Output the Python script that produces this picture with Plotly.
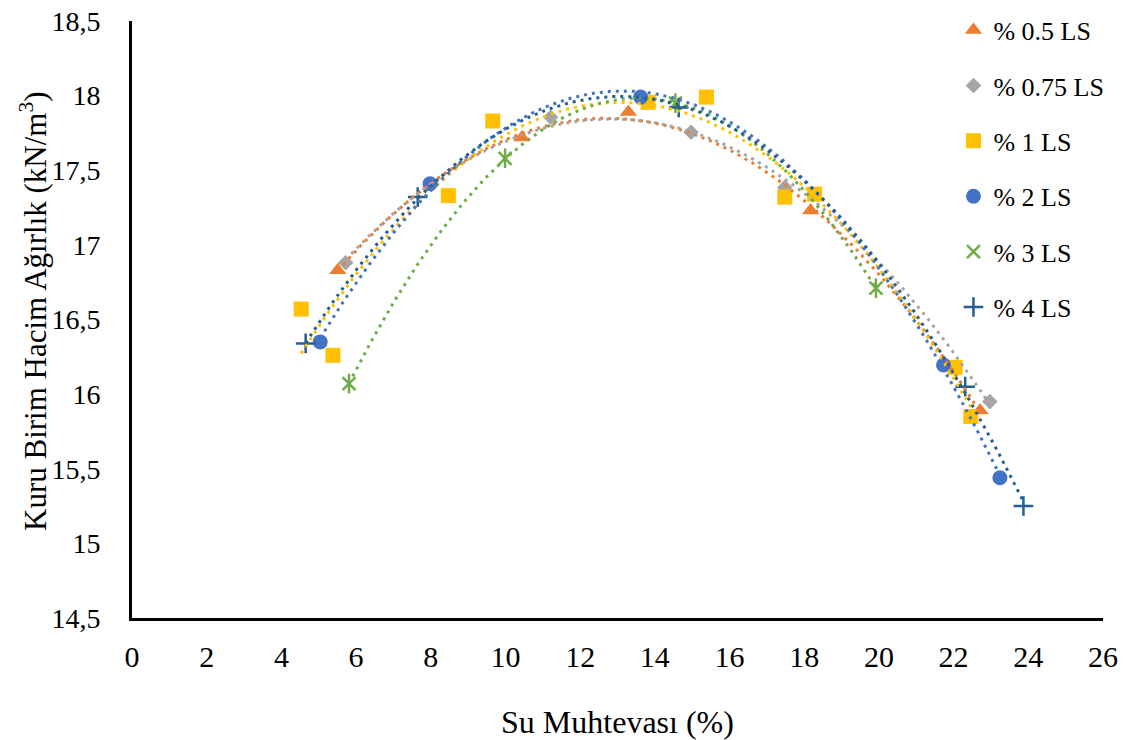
import numpy as np
import plotly.graph_objects as go

# ---- data ----
series_names = ["% 0.5 LS", "% 0.75 LS", "% 1 LS", "% 2 LS", "% 3 LS", "% 4 LS"]

x_05 = [5.51, 10.44, 13.29, 18.17, 22.71]
y_05 = [16.83, 17.72, 17.89, 17.23, 15.89]

x_075 = [5.72, 11.21, 14.97, 17.48, 22.97]
y_075 = [16.88, 17.855, 17.755, 17.385, 15.95]

x_1 = [4.53, 5.38, 8.47, 9.66, 13.82, 15.38, 17.48, 18.28, 22.04, 22.46]
y_1 = [16.57, 16.26, 17.33, 17.83, 17.955, 17.99, 17.32, 17.34, 16.18, 15.85]

x_2 = [5.04, 7.98, 13.62, 21.73, 23.24]
y_2 = [16.35, 17.41, 17.99, 16.195, 15.44]

x_3 = [5.81, 9.99, 14.55, 19.92]
y_3 = [16.07, 17.58, 17.95, 16.71]

x_4 = [4.65, 7.65, 14.64, 22.31, 23.87]
y_4 = [16.34, 17.32, 17.92, 16.05, 15.25]

x_ticks = [0, 2, 4, 6, 8, 10, 12, 14, 16, 18, 20, 22, 24, 26]
y_ticks = [14.5, 15, 15.5, 16, 16.5, 17, 17.5, 18, 18.5]
y_tick_labels = ["14,5", "15", "15,5", "16", "16,5", "17", "17,5", "18", "18,5"]

x_title = "Su Muhtevası (%)"
y_title = "Kuru Birim Hacim Ağırlık (kN/m<sup>3</sup>)"

# ---- styles ----
colors = ["#ED7D31", "#A5A5A5", "#FFC000", "#4472C4", "#70AD47", "#255E91"]
symbols = ["triangle-up", "diamond", "square", "circle", "x-thin-open", "cross-thin-open"]
sizes = [15, 12, 15, 15, 13, 14]

xs = [x_05, x_075, x_1, x_2, x_3, x_4]
ys = [y_05, y_075, y_1, y_2, y_3, y_4]

FONT = "'Liberation Serif', 'Times New Roman', serif"
fig = go.Figure()

for i in range(6):
    mk = dict(color=colors[i], symbol=symbols[i], size=sizes[i])
    if symbols[i].endswith("open"):
        mk["line"] = dict(color=colors[i], width=2.5)
    else:
        mk["line"] = dict(width=0)
    fig.add_trace(go.Scatter(x=xs[i], y=ys[i], mode="markers", name=series_names[i],
                             legendgroup=f"g{i}", marker=mk))
    if symbols[i] == "x-thin-open":
        fig.add_trace(go.Scatter(x=xs[i], y=ys[i], mode="markers", showlegend=False,
                                 legendgroup=f"g{i}", hoverinfo="skip",
                                 marker=dict(symbol="line-ns-open", size=14, color=colors[i],
                                             line=dict(color=colors[i], width=2.5))))

# polynomial (order 2) trendlines, drawn above markers like Excel does
for i in range(6):
    c = np.polyfit(xs[i], ys[i], 2)
    xt = np.linspace(min(xs[i]), max(xs[i]), 200)
    yt = np.polyval(c, xt)
    fig.add_trace(go.Scatter(x=xt, y=yt, mode="lines", showlegend=False,
                             legendgroup=f"g{i}", hoverinfo="skip",
                             line=dict(color=colors[i], width=3, dash="3px,5px")))

fig.update_layout(
    width=1129, height=740,
    margin=dict(l=132, r=26, t=21, b=122, autoexpand=False),
    paper_bgcolor="white", plot_bgcolor="white",
    font=dict(family=FONT, color="black"),
    legend=dict(x=0.846, y=1.024, xanchor="left", yanchor="top",
                font=dict(family=FONT, size=26, color="black"),
                tracegroupgap=18.6, bgcolor="rgba(0,0,0,0)"),
    showlegend=True,
    annotations=[dict(text=y_title, xref="paper", yref="paper", x=-0.1015, y=0.515,
                      xanchor="center", yanchor="middle", textangle=-90, showarrow=False,
                      font=dict(family=FONT, size=31, color="black"))],
)
fig.update_xaxes(range=[0, 26], tickvals=x_ticks, ticktext=[str(v) for v in x_ticks],
                 automargin=False,
                 showgrid=False, zeroline=False, showline=True, linecolor="black", linewidth=3,
                 ticks="", tickfont=dict(family=FONT, size=30, color="black"), ticklabelstandoff=10,
                 title=dict(text=x_title, font=dict(family=FONT, size=32, color="black"), standoff=40))
fig.update_yaxes(range=[14.5, 18.5], tickvals=y_ticks, ticktext=y_tick_labels,
                 automargin=False,
                 showgrid=False, zeroline=False, showline=True, linecolor="black", linewidth=3,
                 ticks="", tickfont=dict(family=FONT, size=28, color="black"), ticklabelstandoff=23)

fig.write_html("out.html", config={"displayModeBar": False},
               post_script="document.body.style.margin='0px';")
